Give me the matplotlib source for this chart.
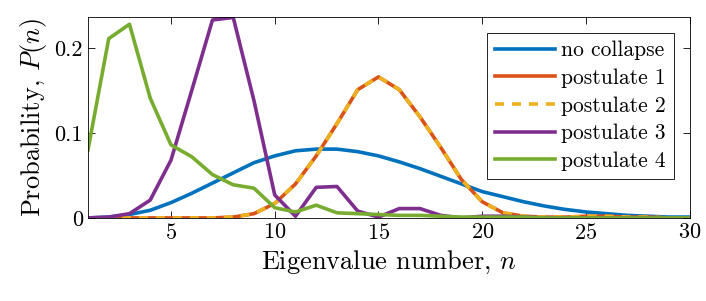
import numpy as np
import matplotlib
matplotlib.use('Agg')
import matplotlib.pyplot as plt

plt.rcParams['font.family'] = 'serif'
plt.rcParams['font.serif'] = ['cmr10']
plt.rcParams['mathtext.fontset'] = 'cm'
plt.rcParams['axes.formatter.use_mathtext'] = True

n = np.arange(1, 31)

no_collapse = [0.000, 0.001, 0.004, 0.009, 0.018, 0.029, 0.041, 0.053, 0.065, 0.073,
               0.079, 0.081, 0.081, 0.078, 0.073, 0.066, 0.058, 0.049, 0.040, 0.031,
               0.025, 0.019, 0.014, 0.010, 0.007, 0.005, 0.003, 0.002, 0.001, 0.001]
postulate1 = [0.000, 0.000, 0.000, 0.000, 0.000, 0.000, 0.000, 0.001, 0.005, 0.017,
              0.040, 0.073, 0.111, 0.151, 0.166, 0.151, 0.119, 0.083, 0.045, 0.019,
              0.006, 0.002, 0.001, 0.001, 0.002, 0.002, 0.001, 0.001, 0.000, 0.000]
postulate2 = postulate1
postulate3 = [0.000, 0.001, 0.005, 0.021, 0.068, 0.150, 0.233, 0.236, 0.138, 0.027,
              0.002, 0.036, 0.037, 0.008, 0.001, 0.011, 0.011, 0.003, 0.000, 0.002,
              0.002, 0.001, 0.000, 0.000, 0.000, 0.000, 0.000, 0.000, 0.000, 0.000]
postulate4 = [0.080, 0.211, 0.228, 0.141, 0.086, 0.072, 0.051, 0.039, 0.035, 0.012,
              0.007, 0.015, 0.006, 0.005, 0.004, 0.003, 0.003, 0.002, 0.001, 0.001,
              0.001, 0.001, 0.000, 0.000, 0.000, 0.000, 0.000, 0.000, 0.000, 0.000]

fig = plt.figure(figsize=(7.06, 3.01), dpi=100)
ax = fig.add_axes([0.1246, 0.276, 0.8524, 0.6675])

lw = 2.6
ax.plot(n, no_collapse, color='#0072BD', lw=lw, label='no collapse')
ax.plot(n, postulate1, color='#D95319', lw=lw, label='postulate 1')
ax.plot(n, postulate2, color='#EDB120', lw=lw, linestyle=(0, (2.5, 2.2)), label='postulate 2')
ax.plot(n, postulate3, color='#7E2F8E', lw=lw, label='postulate 3')
ax.plot(n, postulate4, color='#77AC30', lw=lw, label='postulate 4')

ax.set_xlim(1, 30)
ax.set_ylim(0, 0.2365)
ax.set_xticks([5, 10, 15, 20, 25, 30])
ax.set_yticks([0, 0.1, 0.2])
ax.set_yticklabels(['0', '0.1', '0.2'])
ax.tick_params(direction='in', top=True, right=True, labelsize=16, length=5, width=0.6)
for s in ax.spines.values():
    s.set_linewidth(0.6)

ax.set_xlabel('Eigenvalue number, $n$', fontsize=19)
ax.set_ylabel('Probability, $P(n)$', fontsize=19)

leg = ax.legend(loc='upper right', fontsize=15.5, fancybox=False, framealpha=1,
                edgecolor='black', handlelength=2.8, labelspacing=0.38,
                borderaxespad=0.75, handletextpad=0.3, borderpad=0.35)
leg.get_frame().set_linewidth(0.6)

fig.savefig('out.png', dpi=100)
